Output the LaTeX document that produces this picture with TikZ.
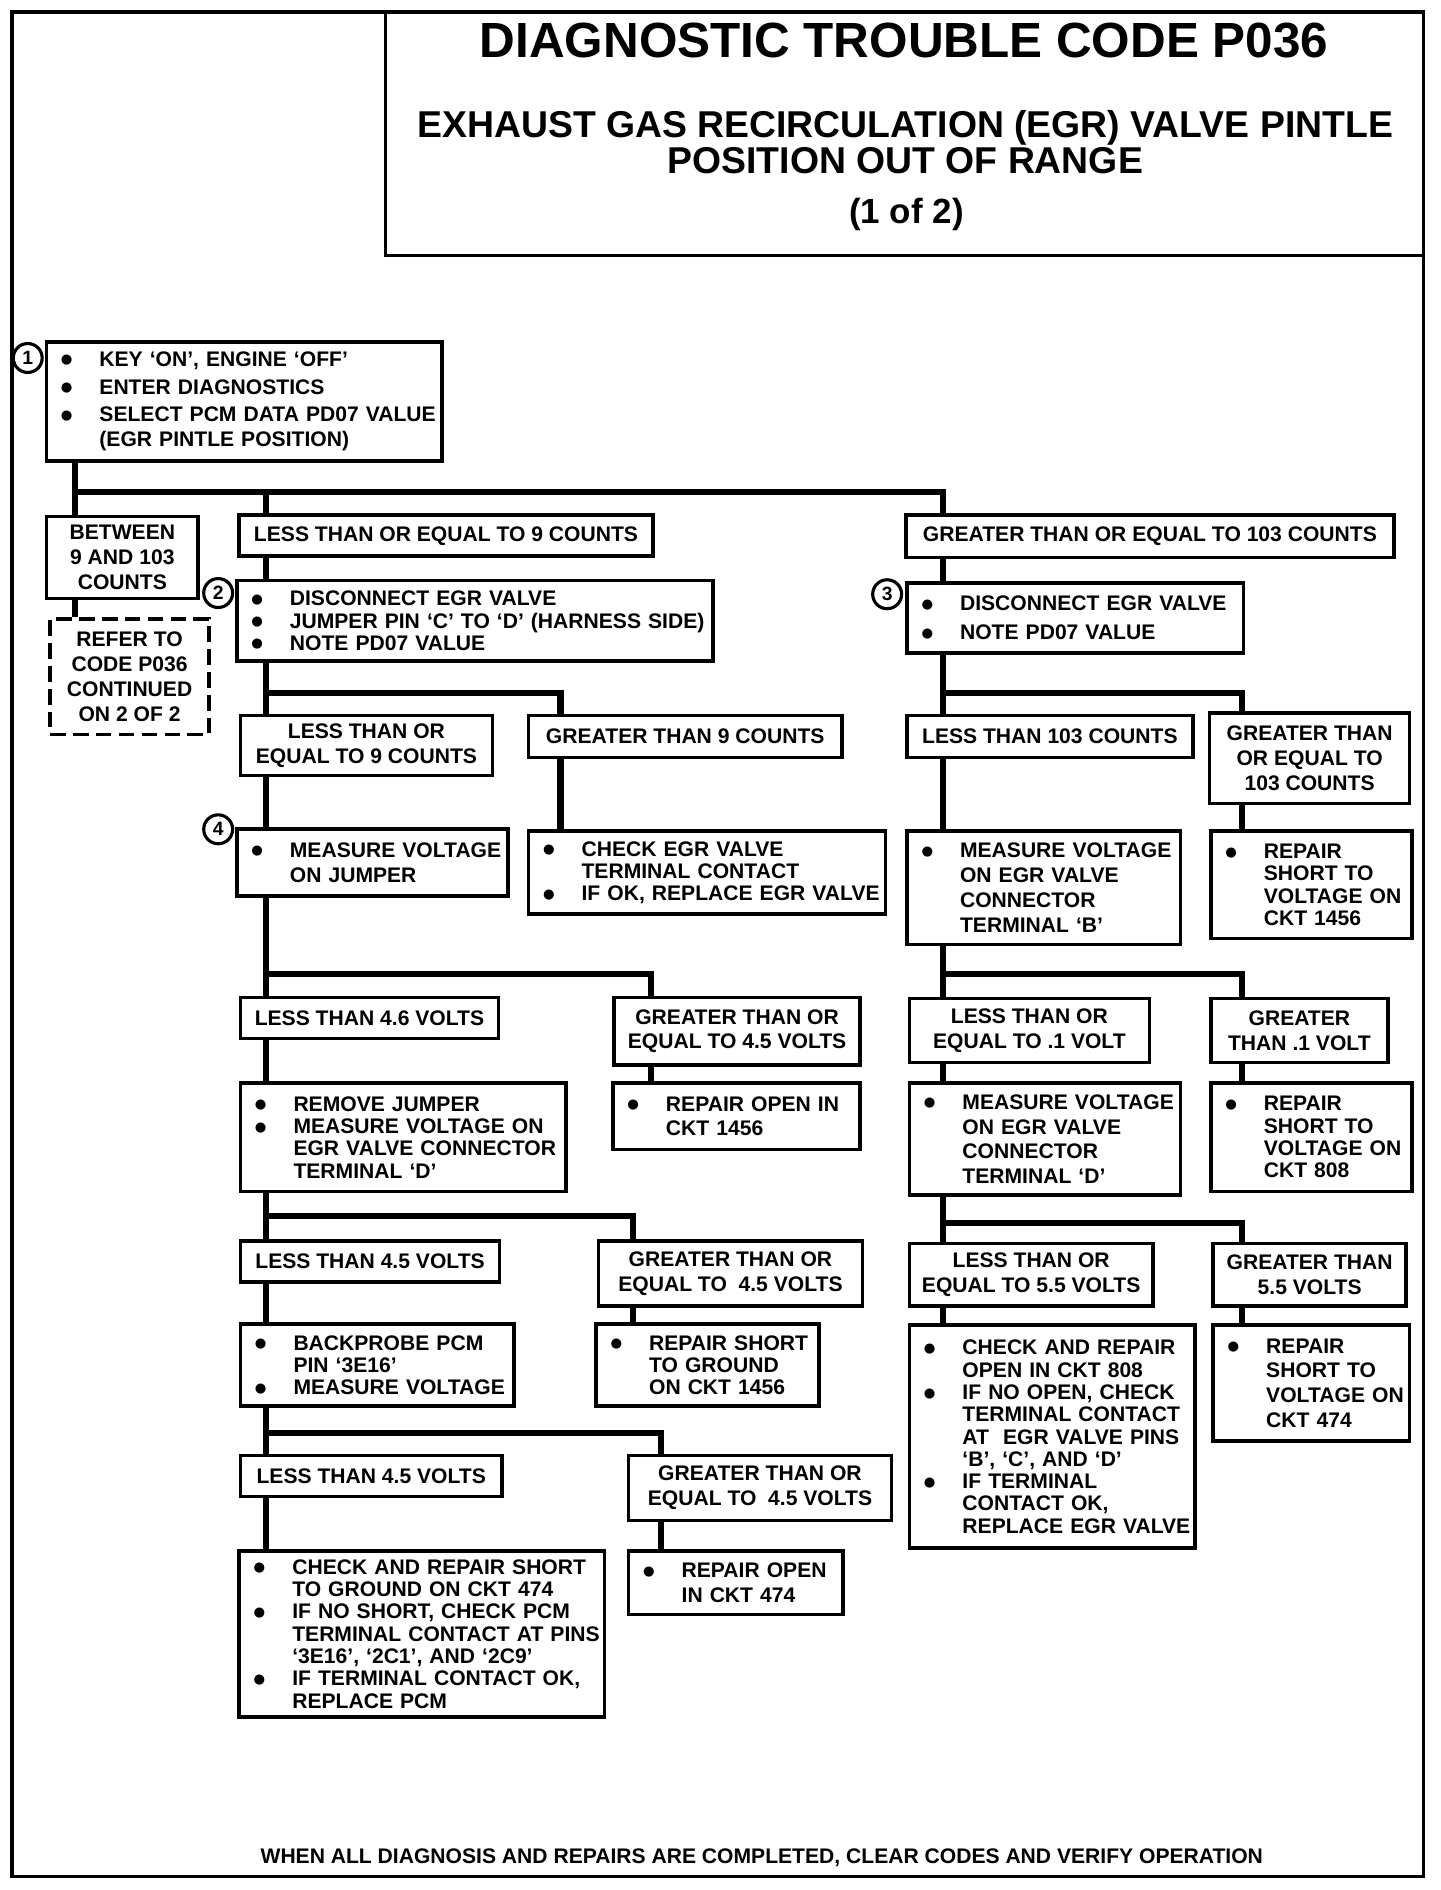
\documentclass[tikz,border=0pt]{standalone}
\usepackage{fontspec}
\setmainfont{Liberation Sans}
\newfontfamily\dotfont{DejaVu Sans}
\usepackage{tikz}
\usetikzlibrary{calc,positioning}

\newcommand{\bodyfont}{\bfseries\fontsize{17.5}{18.5}\selectfont}
\newcommand{\dotmark}{\raisebox{2pt}{\dotfont\fontsize{11}{11}\selectfont ●}}
\newcommand{\itm}[1]{\makebox[32pt][l]{\dotmark}\mbox{#1}}
\newcommand{\cnt}[1]{\makebox[32pt][l]{}\mbox{#1}}

\tikzset{
  box/.style={draw, line width=3pt, anchor=north west, inner sep=0pt, font=\bodyfont},
  cond/.style={box, align=center},
  act/.style={box, align=left, inner xsep=12pt},
  roomy/.style={font=\bfseries\fontsize{17.5}{20.6}\selectfont},
  link/.style={line width=5pt},
  num/.style={draw, circle, line width=2.6pt, minimum size=24pt, inner sep=0pt, font=\bfseries\fontsize{16}{16}\selectfont},
}

\begin{document}
\begin{tikzpicture}[x=1pt, y=-1pt]
  \useasboundingbox (0,0) rectangle (1195,1568);
  % Frame and heading
  \draw[line width=2.6pt] (10,10) rectangle (1181,1557);
  \draw[line width=2.6pt] (320,10) rectangle (1181,212);
  \node[font=\bfseries\fontsize{41}{41}\selectfont] (ttl) at (750,34) {DIAGNOSTIC TROUBLE CODE P036};
  \node[font=\bfseries\fontsize{31}{30}\selectfont, align=center] (sub) at (751,118)
    {EXHAUST GAS RECIRCULATION (EGR) VALVE PINTLE\\POSITION OUT OF RANGE};
  \node[font=\bfseries\fontsize{29}{29}\selectfont] (pg) at (752,178) {(1 of 2)};

  % Columns of the trunk lines
  \coordinate (c0) at (62,0);
  \coordinate (c1) at (221,0);
  \coordinate (c2) at (465,0);
  \coordinate (c3) at (540,0);
  \coordinate (c4) at (525,0);
  \coordinate (c5) at (548,0);
  \coordinate (c6) at (782,0);
  \coordinate (c7) at (1030,0);

  % Step 1
  \node[act, roomy, text width=304pt, minimum height=99pt] (s1) at (37,282)
    {\itm{KEY `ON', ENGINE `OFF'}\\[2.5pt]\itm{ENTER DIAGNOSTICS}\\[2.5pt]
     \itm{SELECT PCM DATA PD07 VALUE}\\\cnt{(EGR PINTLE POSITION)}};
  \node[num] (n1) at ([xshift=-14pt,yshift=-15pt]s1.north west) {1};
  \node[cond, roomy, minimum width=126pt, minimum height=68pt] (btw) at (37,427)
    {BETWEEN\\9 AND 103\\COUNTS};
  \node[cond, roomy, dash pattern=on 13pt off 6pt, minimum width=132pt, minimum height=96pt] (ref) at (40,512)
    {REFER TO\\CODE P036\\CONTINUED\\ON 2 OF 2};
  \node[cond, minimum width=343pt, minimum height=34pt] (le9) at (197,426)
    {LESS THAN OR EQUAL TO 9 COUNTS};
  \node[cond, minimum width=405pt, minimum height=35pt] (ge103) at (750,426)
    {GREATER THAN OR EQUAL TO 103 COUNTS};

  % Steps 2 and 3
  \node[act, text width=371pt, minimum height=67pt] (s2) at (195,480)
    {\itm{DISCONNECT EGR VALVE}\\\itm{JUMPER PIN `C' TO `D' (HARNESS SIDE)}\\\itm{NOTE PD07 VALUE}};
  \node[num] (n2) at ([xshift=-14pt,yshift=-12pt]s2.north west) {2};
  \node[act, roomy, text width=255pt, minimum height=58pt] (s3) at (751,482)
    {\itm{DISCONNECT EGR VALVE}\\[3.4pt]\itm{NOTE PD07 VALUE}};
  \node[num] (n3) at ([xshift=-15pt,yshift=-11pt]s3.north west) {3};
  \node[cond, roomy, minimum width=209pt, minimum height=50pt] (le9b) at (198,592)
    {LESS THAN OR\\EQUAL TO 9 COUNTS};
  \node[cond, minimum width=260pt, minimum height=35pt] (gt9) at (437,592)
    {GREATER THAN 9 COUNTS};
  \node[cond, minimum width=237pt, minimum height=35pt] (lt103) at (751,592)
    {LESS THAN 103 COUNTS};
  \node[cond, roomy, minimum width=166pt, minimum height=75pt] (ge103b) at (1002,590)
    {GREATER THAN\\OR EQUAL TO\\103 COUNTS};

  % Step 4 and its neighbours
  \node[act, roomy, text width=201pt, minimum height=56pt] (s4) at (195,686)
    {\itm{MEASURE VOLTAGE}\\\cnt{ON JUMPER}};
  \node[num] (n4) at ([xshift=-14pt,yshift=-2pt]s4.north west) {4};
  \node[act, text width=272pt, minimum height=69pt] (chk) at (437,688)
    {\itm{CHECK EGR VALVE}\\\cnt{TERMINAL CONTACT}\\\itm{IF OK, REPLACE EGR VALVE}};
  \node[act, roomy, text width=203pt, minimum height=94pt] (mb) at (751,688)
    {\itm{MEASURE VOLTAGE}\\\cnt{ON EGR VALVE}\\\cnt{CONNECTOR}\\\cnt{TERMINAL `B'}};
  \node[act, text width=143pt, minimum height=89pt] (r1456) at (1003,688)
    {\itm{REPAIR}\\\cnt{SHORT TO}\\\cnt{VOLTAGE ON}\\\cnt{CKT 1456}};
  \node[cond, minimum width=214pt, minimum height=34pt] (lt46) at (198,826)
    {LESS THAN 4.6 VOLTS};
  \node[cond, roomy, minimum width=204pt, minimum height=56pt] (ge45) at (508,826)
    {GREATER THAN OR\\EQUAL TO 4.5 VOLTS};
  \node[cond, roomy, minimum width=199pt, minimum height=53pt] (le01) at (753,827)
    {LESS THAN OR\\EQUAL TO .1 VOLT};
  \node[cond, roomy, minimum width=147pt, minimum height=53pt] (gt01) at (1003,827)
    {GREATER\\THAN .1 VOLT};

  % Fifth row
  \node[act, text width=246pt, minimum height=90pt] (rem) at (198,897)
    {\itm{REMOVE JUMPER}\\\itm{MEASURE VOLTAGE ON}\\\cnt{EGR VALVE CONNECTOR}\\\cnt{TERMINAL `D'}};
  \node[act, roomy, text width=181pt, minimum height=55pt] (ro1456) at (507,897)
    {\itm{REPAIR OPEN IN}\\\cnt{CKT 1456}};
  \node[act, roomy, text width=201pt, minimum height=93pt] (md) at (753,897)
    {\itm{MEASURE VOLTAGE}\\\cnt{ON EGR VALVE}\\\cnt{CONNECTOR}\\\cnt{TERMINAL `D'}};
  \node[act, text width=143pt, minimum height=90pt] (r808) at (1003,897)
    {\itm{REPAIR}\\\cnt{SHORT TO}\\\cnt{VOLTAGE ON}\\\cnt{CKT 808}};
  \node[cond, minimum width=215pt, minimum height=34pt] (lt45) at (198,1028)
    {LESS THAN 4.5 VOLTS};
  \node[cond, roomy, minimum width=219pt, minimum height=54pt] (ge45b) at (495,1028)
    {GREATER THAN OR\\EQUAL TO\ \ 4.5 VOLTS};
  \node[cond, roomy, minimum width=202pt, minimum height=52pt] (le55) at (753,1030)
    {LESS THAN OR\\EQUAL TO 5.5 VOLTS};
  \node[cond, roomy, minimum width=160pt, minimum height=52pt] (gt55) at (1005,1030)
    {GREATER THAN\\5.5 VOLTS};

  % Sixth row
  \node[act, text width=203pt, minimum height=68pt] (bp) at (198,1097)
    {\itm{BACKPROBE PCM}\\\cnt{PIN `3E16'}\\\itm{MEASURE VOLTAGE}};
  \node[act, text width=161pt, minimum height=68pt] (rsg) at (493,1097)
    {\itm{REPAIR SHORT}\\\cnt{TO GROUND}\\\cnt{ON CKT 1456}};
  \node[act, text width=213pt, minimum height=185pt] (cro808) at (753,1098)
    {\itm{CHECK AND REPAIR}\\\cnt{OPEN IN CKT 808}\\\itm{IF NO OPEN, CHECK}\\\cnt{TERMINAL CONTACT}\\
     \cnt{AT\ \ EGR VALVE PINS}\\\cnt{`B', `C', AND `D'}\\\itm{IF TERMINAL}\\\cnt{CONTACT OK,}\\\cnt{REPLACE EGR VALVE}};
  \node[act, roomy, text width=139pt, minimum height=96pt] (r474) at (1005,1098)
    {\itm{REPAIR}\\\cnt{SHORT TO}\\\cnt{VOLTAGE ON}\\\cnt{CKT 474}};
  \node[cond, minimum width=217pt, minimum height=34pt] (lt45c) at (198,1206)
    {LESS THAN 4.5 VOLTS};
  \node[cond, roomy, minimum width=218pt, minimum height=54pt] (ge45c) at (520,1206)
    {GREATER THAN OR\\EQUAL TO\ \ 4.5 VOLTS};

  % Last row
  \node[act, text width=279pt, minimum height=138pt] (crs474) at (197,1285)
    {\itm{CHECK AND REPAIR SHORT}\\\cnt{TO GROUND ON CKT 474}\\\itm{IF NO SHORT, CHECK PCM}\\
     \cnt{TERMINAL CONTACT AT PINS}\\\cnt{`3E16', `2C1', AND `2C9'}\\\itm{IF TERMINAL CONTACT OK,}\\\cnt{REPLACE PCM}};
  \node[act, roomy, text width=154pt, minimum height=53pt] (ro474) at (520,1285)
    {\itm{REPAIR OPEN}\\\cnt{IN CKT 474}};

  \node[font=\bodyfont] (foot) at (632,1541)
    {WHEN ALL DIAGNOSIS AND REPAIRS ARE COMPLETED, CLEAR CODES AND VERIFY OPERATION};

  % Connectors
  \draw[link] (s1.south -| c0) -- (btw.north -| c0);
  \draw[link] (s1.south -| c0) ++(0,24) -| (ge103.north -| c6);
  \draw[link] (s1.south -| c1) ++(0,24) -- (le9.north -| c1);
  \draw[link] (btw.south -| c0) -- (ref.north -| c0);
  \draw[link] (le9.south -| c1) -- (s2.north -| c1);
  \draw[link] (ge103.south -| c6) -- (s3.north -| c6);

  \draw[link] (s2.south -| c1) -- (le9b.north -| c1);
  \draw[link] (s2.south -| c1) ++(0,25) -| (gt9.north -| c2);
  \draw[link] (s3.south -| c6) -- (lt103.north -| c6);
  \draw[link] (s3.south -| c6) ++(0,32) -| (ge103b.north -| c7);
  \draw[link] (le9b.south -| c1) -- (s4.north -| c1);
  \draw[link] (gt9.south -| c2) -- (chk.north -| c2);
  \draw[link] (lt103.south -| c6) -- (mb.north -| c6);
  \draw[link] (ge103b.south -| c7) -- (r1456.north -| c7);

  \draw[link] (s4.south -| c1) -- (lt46.north -| c1);
  \draw[link] (s4.south -| c1) ++(0,63) -| (ge45.north -| c3);
  \draw[link] (mb.south -| c6) -- (le01.north -| c6);
  \draw[link] (mb.south -| c6) ++(0,23) -| (gt01.north -| c7);
  \draw[link] (lt46.south -| c1) -- (rem.north -| c1);
  \draw[link] (ge45.south -| c3) -- (ro1456.north -| c3);
  \draw[link] (le01.south -| c6) -- (md.north -| c6);
  \draw[link] (gt01.south -| c7) -- (r808.north -| c7);

  \draw[link] (rem.south -| c1) -- (lt45.north -| c1);
  \draw[link] (rem.south -| c1) ++(0,19) -| (ge45b.north -| c4);
  \draw[link] (md.south -| c6) -- (le55.north -| c6);
  \draw[link] (md.south -| c6) ++(0,22) -| (gt55.north -| c7);
  \draw[link] (lt45.south -| c1) -- (bp.north -| c1);
  \draw[link] (ge45b.south -| c4) -- (rsg.north -| c4);
  \draw[link] (le55.south -| c6) -- (cro808.north -| c6);
  \draw[link] (gt55.south -| c7) -- (r474.north -| c7);

  \draw[link] (bp.south -| c1) -- (lt45c.north -| c1);
  \draw[link] (bp.south -| c1) ++(0,21) -| (ge45c.north -| c5);
  \draw[link] (lt45c.south -| c1) -- (crs474.north -| c1);
  \draw[link] (ge45c.south -| c5) -- (ro474.north -| c5);
\end{tikzpicture}
\end{document}
